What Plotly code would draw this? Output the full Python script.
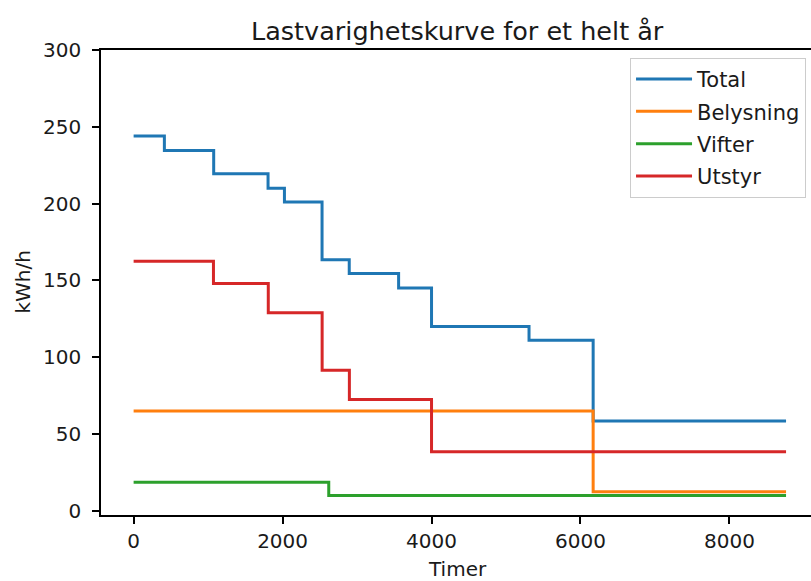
import plotly.graph_objects as go

# Load duration curves: step breakpoints (hours) and load levels (kWh/h)
total_hours = [0, 413, 1075, 1805, 2025, 2530, 2895, 3558, 4000, 5309, 6170, 8760]
total_load = [244, 234.5, 219.5, 210, 201, 163.5, 154.5, 145, 120, 111, 58.5, 58.5]

belysning_hours = [0, 6170, 8760]
belysning_load = [65, 12.5, 12.5]

vifter_hours = [0, 2620, 8760]
vifter_load = [18.7, 10, 10]

utstyr_hours = [0, 1072, 1808, 2531, 2897, 4000, 8760]
utstyr_load = [162.5, 148, 129, 91.5, 72.5, 38.5, 38.5]

x_ticks = [0, 2000, 4000, 6000, 8000]
y_ticks = [0, 50, 100, 150, 200, 250, 300]

series = [
    ("Total", total_hours, total_load, "#1f77b4"),
    ("Belysning", belysning_hours, belysning_load, "#ff7f0e"),
    ("Vifter", vifter_hours, vifter_load, "#2ca02c"),
    ("Utstyr", utstyr_hours, utstyr_load, "#d62728"),
]

FONT = "DejaVu Sans"
TXT = "#1a1a1a"

fig = go.Figure()
for name, xs, ys, color in series:
    fig.add_trace(go.Scatter(
        x=xs, y=ys, name=name, mode="lines",
        line=dict(color=color, width=3, shape="hv"),
        legendgroup=name,
    ))

axis_common = dict(
    showgrid=False, zeroline=False,
    showline=True, linecolor="#000000", linewidth=1.6,
    ticks="outside", ticklen=7, tickwidth=1.6, tickcolor="#000000",
    tickfont=dict(family=FONT, size=20, color=TXT),
)

fig.update_layout(
    width=811, height=581,
    margin=dict(l=101, r=0, t=50, b=66),
    paper_bgcolor="white", plot_bgcolor="white",
    font=dict(family=FONT, size=20, color=TXT),
    showlegend=True,
    legend=dict(
        x=0.993, y=0.983, xanchor="right", yanchor="top",
        bgcolor="white", bordercolor="#cccccc", borderwidth=1,
        font=dict(family=FONT, size=21, color=TXT),
        tracegroupgap=2, itemwidth=56,
    ),
    xaxis=dict(range=[-438, 9095], tickvals=x_ticks, mirror=True, **axis_common),
    yaxis=dict(range=[-2.7, 300], tickvals=y_ticks, ticklabelstandoff=7, **axis_common),
)

fig.add_annotation(text="Lastvarighetskurve for et helt år", xref="paper", yref="paper",
                   x=0.5016, y=1, yshift=19, showarrow=False,
                   font=dict(family=FONT, size=25.5, color=TXT), xanchor="center", yanchor="middle")
fig.add_annotation(text="Timer", xref="paper", yref="paper",
                   x=0.5016, y=0, yshift=-54, showarrow=False,
                   font=dict(family=FONT, size=20, color=TXT), xanchor="center", yanchor="middle")
fig.add_annotation(text="kWh/h", xref="paper", yref="paper",
                   x=0, y=0.5, xshift=-79, showarrow=False, textangle=-90,
                   font=dict(family=FONT, size=20, color=TXT), xanchor="center", yanchor="middle")

fig.write_html("out.html")
